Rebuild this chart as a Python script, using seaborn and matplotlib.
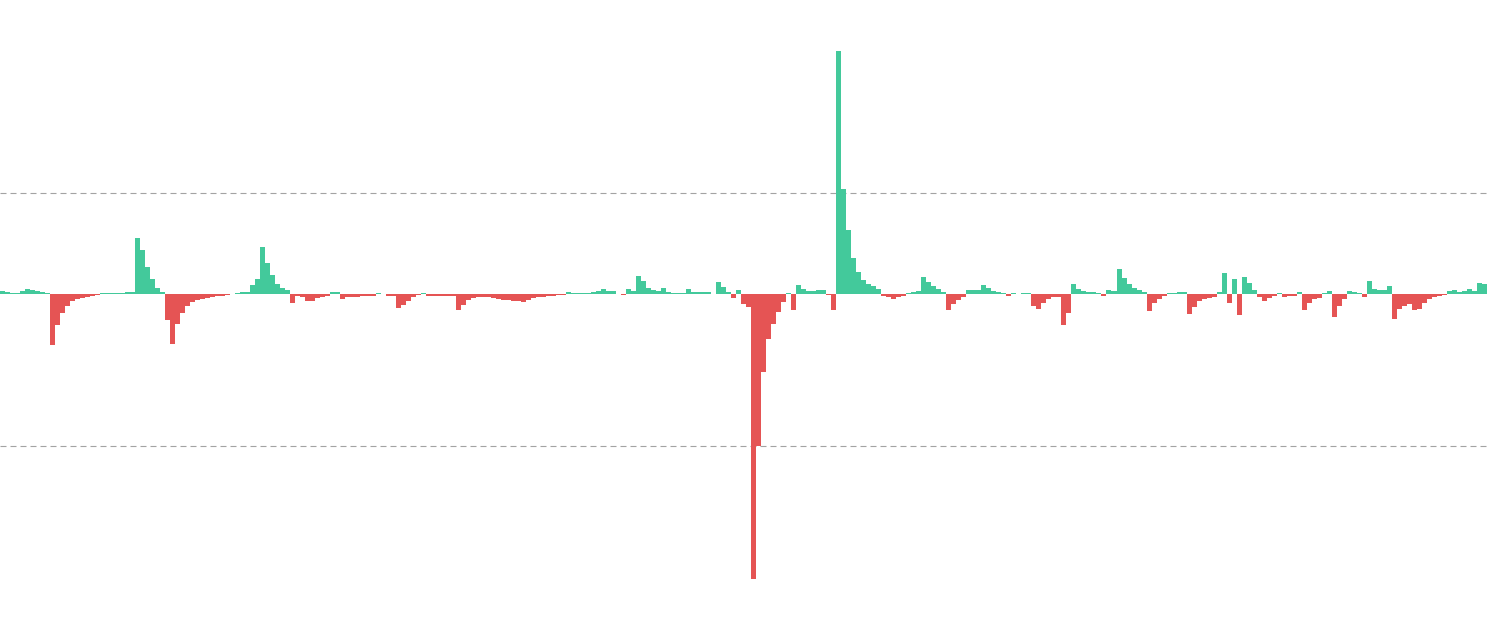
import numpy as np
import pandas as pd
import matplotlib
matplotlib.use("Agg")
import matplotlib.pyplot as plt
import seaborn as sns

# funding-rate style series, one value per period (units: 1e-3 %)
rate_values = [
    # 0 - 99
    0.65, 0.5, 0.2, 0.3, 0.7, 1.1, 0.9, 0.7, 0.5, 0.3,
    -10.1, -6.0, -3.6, -2.2, -1.4, -1.0, -0.7, -0.45, -0.25, -0.1,
    0.2, 0.2, 0.25, 0.25, 0.3, 0.4, 0.5, 11.2, 8.7, 5.5,
    3.0, 1.3, 0.4, -5.0, -9.8, -5.9, -3.6, -2.3, -1.6, -1.2,
    -0.85, -0.65, -0.5, -0.35, -0.25, -0.15, 0.15, 0.3, 0.45, 0.55,
    1.8, 3.0, 9.4, 6.3, 3.8, 2.0, 1.3, 0.8, -1.8, -0.3,
    -0.6, -1.25, -1.25, -0.8, -0.45, -0.3, 0.4, 0.4, -1.0, -0.6,
    -0.5, -0.45, -0.4, -0.35, -0.3, 0.2, 0.1, -0.25, -0.25, -2.6,
    -2.1, -1.3, -0.6, -0.15, 0.2, -0.25, -0.3, -0.25, -0.3, -0.3,
    -0.25, -3.0, -2.1, -1.2, -0.7, -0.5, -0.5, -0.6, -0.8, -1.0,
    # 100 - 199
    -1.15, -1.2, -1.3, -1.4, -1.6, -1.1, -0.8, -0.6, -0.45, -0.35,
    -0.25, -0.2, -0.15, 0.5, 0.2, 0.2, 0.3, 0.25, 0.45, 0.6,
    1.0, 0.75, 0.6, 0.15, -0.1, 1.1, 0.6, 3.6, 2.6, 1.3,
    0.9, 0.6, 1.3, 0.5, 0.2, 0.2, 0.25, 1.1, 0.4, 0.55,
    0.55, 0.5, 0.15, 2.5, 1.4, 0.4, -0.8, 0.85, -2.0, -2.4,
    -56.3, -30.0, -15.4, -8.9, -5.9, -3.4, -1.6, 0.3, -3.1, 1.8,
    1.1, 0.6, 0.6, 0.9, 0.9, -0.2, -3.0, 48.1, 20.8, 12.7,
    7.2, 4.4, 2.8, 2.1, 1.6, 1.1, -0.3, -0.6, -0.9, -0.6,
    -0.4, 0.3, 0.5, 0.7, 3.5, 2.4, 1.6, 1.1, 0.4, -3.1,
    -2.0, -1.2, -0.6, 0.85, 0.85, 0.8, 1.8, 1.2, 0.7, 0.45,
    # 200 - 296
    0.3, -0.25, 0.2, 0.15, 0.2, 0.2, -2.2, -2.8, -1.8, -1.0,
    -0.6, -0.45, -6.1, -3.6, 2.0, 1.1, 0.7, 0.5, 0.4, 0.35,
    -0.25, 0.85, 0.75, 5.1, 3.2, 2.0, 1.3, 0.9, 0.5, -3.2,
    -1.8, -0.9, -0.3, 0.2, 0.3, 0.45, 0.55, -3.9, -2.5, -1.4,
    -1.0, -0.75, -0.55, 0.5, 4.3, -1.7, 3.0, -4.1, 3.5, 2.2,
    0.8, -0.5, -1.3, -0.8, -0.3, 0.2, -0.6, -0.4, -0.35, 0.4,
    -3.1, -1.7, -1.0, -0.7, 0.3, 0.6, -4.4, -2.2, -0.9, 0.7,
    0.55, 0.3, -0.45, 2.6, 1.1, 0.9, 0.85, 1.6, -4.9, -2.8,
    -2.2, -2.0, -3.0, -2.9, -1.8, -0.95, -0.55, -0.4, -0.2, 0.6,
    0.95, 0.55, 0.65, 1.15, 0.75, 2.2, 2.0,
]
grid_ticks = [-30, 20]

green = "#43C99B"
red = "#E55454"

df = pd.DataFrame({"period": np.arange(len(rate_values)), "rate": rate_values})
df["side"] = np.where(df["rate"] >= 0, "up", "down")

sns.set_style("white")
fig = plt.figure(figsize=(14.9, 6.33), dpi=100)
ax = fig.add_axes([0, 0, 1487 / 1490, 1])

sns.barplot(data=df, x="period", y="rate", hue="side",
            palette={"up": green, "down": red}, dodge=False, width=1.0,
            saturation=1, errorbar=None, legend=False, linewidth=0, ax=ax)

ax.set_xlim(-0.5, len(rate_values) - 0.5)
ax.set_ylim(-67.0, 58.25)
ax.set_yticks(grid_ticks)
ax.set_xticks([])
ax.yaxis.grid(True, color="#a3a3a3", linewidth=0.8, linestyle=(0, (5.4, 3.6)))
ax.xaxis.grid(False)
ax.set_axisbelow(True)
ax.tick_params(left=False, labelleft=False, bottom=False, labelbottom=False)
ax.set_xlabel("")
ax.set_ylabel("")
for s in ax.spines.values():
    s.set_visible(False)

fig.savefig("out.png", dpi=100)
